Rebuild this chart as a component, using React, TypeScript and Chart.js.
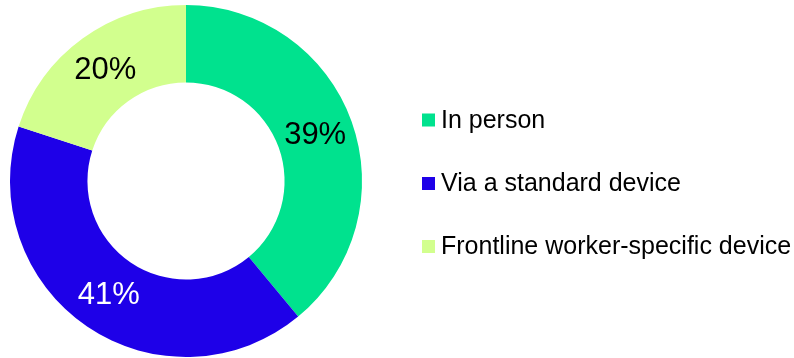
import React, { useEffect, useRef } from "react";
import { Chart, registerables } from "chart.js";

Chart.register(...registerables);

const categories = ["In person", "Via a standard device", "Frontline worker-specific device"];
const values = [39, 41, 20];
const colors = ["#00E28E", "#1E00E8", "#D2FF8E"];
const labelColors = ["#000000", "#FFFFFF", "#000000"];
const FONT = "'Liberation Sans', Arial, sans-serif";

const labelsPlugin = {
  id: "sliceLabels",
  afterDatasetsDraw(chart: any) {
    const ctx = chart.ctx;
    const meta = chart.getDatasetMeta(0);
    ctx.save();
    ctx.font = `31px ${FONT}`;
    ctx.textAlign = "center";
    ctx.textBaseline = "middle";
    meta.data.forEach((arc: any, i: number) => {
      const p = arc.tooltipPosition();
      ctx.fillStyle = labelColors[i];
      ctx.fillText(`${values[i]}%`, p.x, p.y + 1);
    });
    ctx.restore();
  },
};

const legendPlugin = {
  id: "customLegend",
  afterDraw(chart: any) {
    const ctx = chart.ctx;
    const x0 = 422;
    const yCenters = [120, 183.5, 246.5];
    ctx.save();
    ctx.font = `25px ${FONT}`;
    ctx.textAlign = "left";
    ctx.textBaseline = "middle";
    (chart.data.labels as string[]).forEach((lab, i) => {
      const y = yCenters[i];
      ctx.fillStyle = colors[i];
      ctx.fillRect(x0, y - 6.5, 13, 13);
      ctx.fillStyle = "#000000";
      ctx.fillText(lab, x0 + 19, y + 1);
    });
    ctx.restore();
  },
};

export default function App() {
  const ref = useRef<HTMLCanvasElement | null>(null);
  useEffect(() => {
    if (!ref.current) return;
    const chart = new Chart(ref.current, {
      type: "doughnut",
      data: {
        labels: categories,
        datasets: [
          {
            data: values,
            backgroundColor: colors,
            borderWidth: 0,
          },
        ],
      },
      options: {
        animation: false,
        responsive: false,
        cutout: "56%",
        layout: { padding: { left: 10, top: 5, right: 432, bottom: 1 } },
        plugins: {
          legend: { display: false },
          tooltip: { enabled: false },
        },
      },
      plugins: [labelsPlugin, legendPlugin],
    });
    return () => chart.destroy();
  }, []);
  return (
    <div style={{ position: "fixed", left: 0, top: 0, width: 794, height: 358, background: "#fff" }}>
      <canvas ref={ref} width={794} height={358} style={{ width: 794, height: 358 }} />
    </div>
  );
}
